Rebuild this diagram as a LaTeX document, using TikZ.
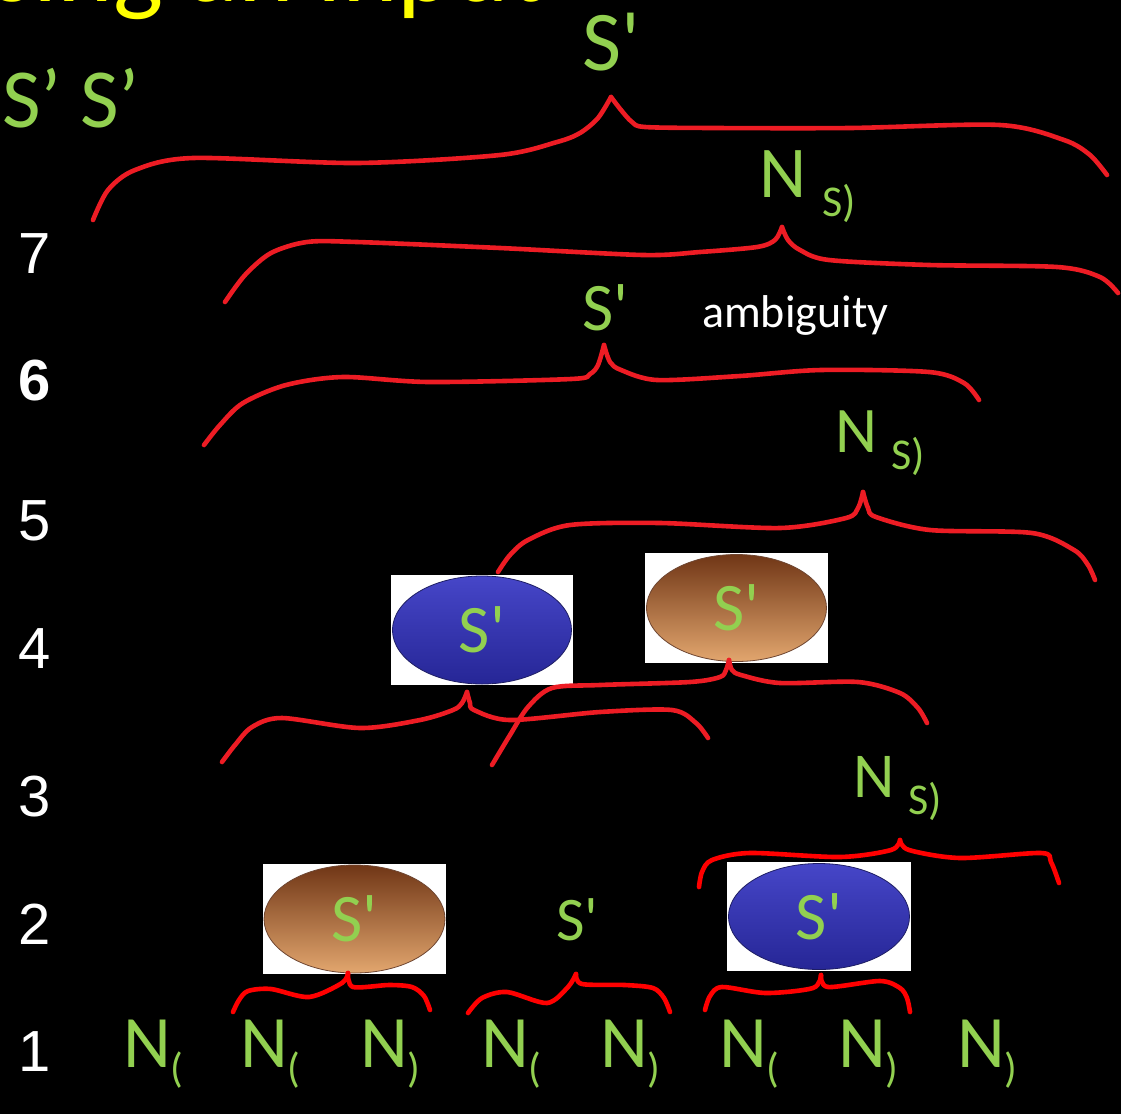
\documentclass[tikz,border=0pt]{standalone}
\usepackage{fontspec}
\setmainfont{Carlito}
\newfontfamily\numfont{Liberation Sans}
\usetikzlibrary{shapes.geometric}
\definecolor{inkred}{HTML}{ED1C24}
\definecolor{penred}{HTML}{FF0000}
\definecolor{chalkgreen}{HTML}{92D050}
\definecolor{titleyellow}{HTML}{FFFF00}
\newcommand{\fs}[1]{\fontsize{#1}{#1}\selectfont}
\newcommand{\sprime}{S\textquotesingle}
\newcommand{\nsub}{N\hspace{0.22em}\raisebox{-0.27em}{\fs{44}S)}}
\newcommand{\nleaf}[1]{N\raisebox{-15pt}{\fs{42}#1}}
\begin{document}
\begin{tikzpicture}[x=1pt, y=-1pt, line cap=round, line join=round,
    brace/.style={draw=inkred, line width=4.6pt},
    thinbrace/.style={draw=penred, line width=4.6pt},
    rownum/.style={text=white, font=\numfont\fs{58}, inner sep=0pt, anchor=base},
    leaf/.style={text=chalkgreen, font=\fs{74}, inner sep=0pt, anchor=base west},
    hand/.style={text=chalkgreen, inner sep=0pt, anchor=base west},
    whitebox/.style={fill=white, inner sep=0pt},
    blueblob/.style={ellipse, inner sep=0pt, draw={rgb,255:red,30;green,30;blue,100}, line width=0.8pt,
      top color={rgb,255:red,70;green,70;blue,200}, middle color={rgb,255:red,43;green,43;blue,165},
      bottom color={rgb,255:red,38;green,38;blue,150}, text=chalkgreen, font=\fs{68}},
    brownblob/.style={ellipse, inner sep=0pt, draw={rgb,255:red,110;green,70;blue,50}, line width=0.8pt,
      top color={rgb,255:red,112;green,54;blue,22}, middle color={rgb,255:red,176;green,94;blue,46},
      bottom color={rgb,255:red,226;green,166;blue,110}, text=chalkgreen, font=\fs{68}}]
  \useasboundingbox (0,0) rectangle (1121,1114);
  \fill[black] (0,0) rectangle (1121,1114);
  \clip (0,0) rectangle (1121,1114);

  % title (cut off at the top edge)
  \node[text=titleyellow, font=\fs{106}, inner sep=0pt, anchor=base west] (title) at (-8,1) {sing an input};
  \node[hand, font=\fs{84}] (goal) at (2,127) {S’ S’};

  % row numbers
  \node[rownum] (r7) at (35,273) {7};
  \node[rownum, font=\numfont\bfseries\fs{58}] (r6) at (35,400) {6};
  \node[rownum] (r5) at (35,540) {5};
  \node[rownum] (r4) at (35,668) {4};
  \node[rownum] (r3) at (35,816) {3};
  \node[rownum] (r2) at (35,944) {2};
  \node[rownum] (r1) at (35,1071) {1};

  % input symbols
  \node[leaf] (n1) at (123,1067) {\nleaf{(}};
  \node[leaf] (n2) at (240,1067) {\nleaf{(}};
  \node[leaf] (n3) at (360,1067) {\nleaf{)}};
  \node[leaf] (n4) at (481,1067) {\nleaf{(}};
  \node[leaf] (n5) at (600,1067) {\nleaf{)}};
  \node[leaf] (n6) at (719,1067) {\nleaf{(}};
  \node[leaf] (n7) at (838,1067) {\nleaf{)}};
  \node[leaf] (n8) at (957,1067) {\nleaf{)}};

  % level 2
  \node[whitebox, minimum width=183, minimum height=110] (w2a) at (354.5,919) {};
  \node[brownblob, minimum width=181, minimum height=108] (s2a) at (w2a) {\sprime};
  \node[hand, font=\fs{62}] (s2b) at (556,940) {\sprime};
  \node[whitebox, minimum width=184, minimum height=109] (w2c) at (819,916.5) {};
  \node[blueblob, minimum width=181, minimum height=106] (s2c) at (w2c) {\sprime};
  \coordinate (t2a) at (348,973);
  \coordinate (t2b) at (576,974);
  \coordinate (t2c) at (821,975);
  \draw[thinbrace] plot[smooth] coordinates {(t2a) (342,983) (309,997) (271,989) (248,991) (239,1000) (233,1012)};
  \draw[thinbrace] plot[smooth] coordinates {(t2a) (353,987) (389,985) (412,987) (424,996) (430,1010)};
  \draw[thinbrace] plot[smooth] coordinates {(t2b) (568,987) (547,1003) (507,992) (482,998) (468,1013)};
  \draw[thinbrace] plot[smooth] coordinates {(t2b) (582,984) (625,985) (653,988) (664,998) (670,1012)};
  \draw[thinbrace] plot[smooth] coordinates {(t2c) (813,988) (766,993) (722,987) (710,996) (705,1010)};
  \draw[thinbrace] plot[smooth] coordinates {(t2c) (828,987) (880,981) (900,988) (907,998) (910,1012)};

  % level 3
  \node[hand, font=\fs{64}] (ns3) at (853,797) {\nsub};
  \coordinate (t3) at (900,840);
  \draw[thinbrace] plot[smooth] coordinates {(t3) (891,850) (840,857) (750,853) (712,860) (702,872) (699,887)};
  \draw[thinbrace] plot[smooth] coordinates {(t3) (909,850) (960,858) (1041,853) (1051,862) (1059,883)};

  % level 4
  \node[whitebox, minimum width=182, minimum height=110] (w4a) at (482,630) {};
  \node[blueblob, minimum width=179, minimum height=108] (s4a) at (w4a) {\sprime};
  \node[whitebox, minimum width=183, minimum height=110] (w4b) at (736.5,608) {};
  \node[brownblob, minimum width=180, minimum height=107] (s4b) at (w4b) {\sprime};
  \coordinate (t4a) at (467,692);
  \coordinate (t4b) at (729,660);
  \draw[brace] plot[smooth] coordinates {(t4a) (462,703) (453,710) (420,720) (360,728) (282,718) (252,727) (235,745) (222,762)};
  \draw[brace] plot[smooth] coordinates {(t4a) (470,703) (474,710) (510,720) (600,712) (672,710) (696,723) (708,738)};
  \draw[brace] plot[smooth] coordinates {(t4b) (726,670) (720,677) (690,682) (600,685) (552,688) (528,707) (510,735) (492,765)};
  \draw[brace] plot[smooth] coordinates {(t4b) (732,670) (741,675) (780,683) (858,682) (900,693) (918,708) (927,723)};

  % level 5
  \node[hand, font=\fs{65}] (ns5) at (835,452) {\nsub};
  \coordinate (t5) at (863,492);
  \draw[brace] plot[smooth] coordinates {(t5) (858,508) (846,518) (780,528) (660,523) (570,525) (528,540) (510,555) (498,572)};
  \draw[brace] plot[smooth] coordinates {(t5) (868,508) (876,517) (930,530) (1032,533) (1074,550) (1088,565) (1095,580)};

  % level 6
  \node[hand, font=\fs{68}] (s6) at (582,330) {\sprime};
  \node[text=white, font=\fs{46}, inner sep=0pt, anchor=base west] (amb) at (702,327) {ambiguity};
  \coordinate (t6) at (604,345);
  \draw[brace] plot[smooth] coordinates {(t6) (598,365) (590,374) (571,379) (429,382) (343,377) (286,385) (243,403) (220,425) (204,445)};
  \draw[brace] plot[smooth] coordinates {(t6) (610,362) (621,370) (657,380) (740,376) (821,370) (929,372) (964,383) (979,400)};

  % level 7
  \node[hand, font=\fs{73}] (ns7) at (759,197) {\nsub};
  \coordinate (t7) at (782,227);
  \draw[brace] plot[smooth] coordinates {(t7) (775,240) (757,247) (700,252) (643,255) (500,248) (357,242) (307,242) (271,253) (245,275) (225,302)};
  \draw[brace] plot[smooth] coordinates {(t7) (788,240) (800,250) (829,260) (929,265) (1057,267) (1100,277) (1118,293)};

  % level 8
  \node[hand, font=\fs{85}] (s8) at (582,70) {\sprime};
  \coordinate (t8) at (611,97);
  \draw[brace] plot[smooth] coordinates {(t8) (598,118) (580,133) (557,142) (500,155) (357,163) (193,158) (135,170) (108,190) (93,220)};
  \draw[brace] plot[smooth] coordinates {(t8) (621,110) (632,122) (645,127) (714,128) (850,128) (1000,125) (1064,140) (1090,155) (1107,175)};
\end{tikzpicture}
\end{document}
